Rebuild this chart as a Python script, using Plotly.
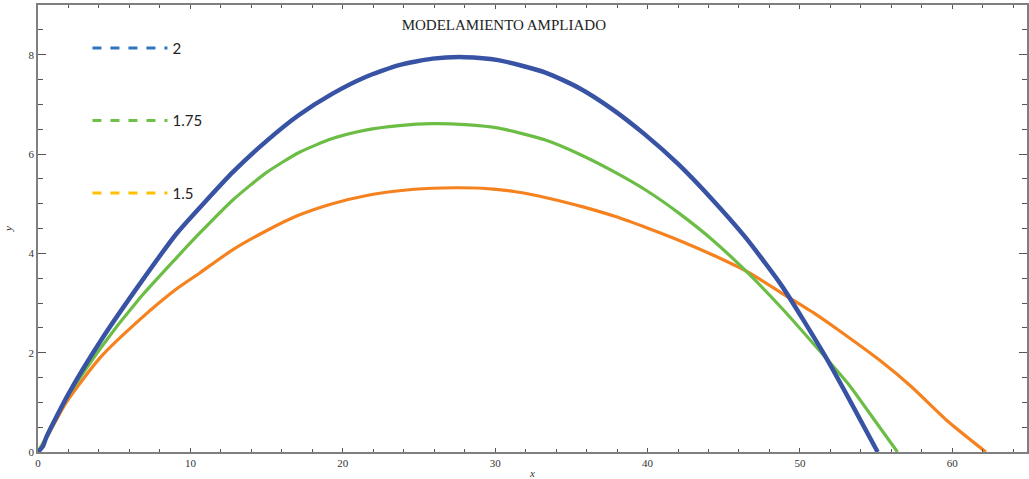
import plotly.graph_objects as go

# ---- data ----
x_20 = [0, 0.33, 0.55, 2.0, 4.2, 6.6, 9.1, 11.0, 12.8, 14.95, 17.1, 19.3, 21.5, 23.7, 25.9, 28.0,
        30.2, 33.3, 35.5, 37.7, 39.8, 42.0, 44.2, 46.4, 48.8, 51.6, 53.2, 55.1]
y_20 = [0, 0.12, 0.30, 1.17, 2.28, 3.35, 4.40, 5.05, 5.64, 6.25, 6.78, 7.21, 7.55, 7.79, 7.92, 7.95,
        7.89, 7.64, 7.33, 6.90, 6.40, 5.80, 5.10, 4.33, 3.35, 1.96, 1.08, 0]

x_175 = [0, 0.4, 1.86, 4.05, 6.66, 9.06, 10.59, 12.77, 14.96, 17.13, 19.32, 21.5, 23.7, 25.87, 28.05,
         30.24, 33.3, 35.5, 37.7, 39.9, 42.1, 44.3, 46.6, 48.8, 51.0, 53.2, 54.9, 56.4]
y_175 = [0, 0.22, 1.07, 2.07, 3.09, 3.90, 4.40, 5.07, 5.62, 6.03, 6.31, 6.48, 6.57, 6.61, 6.59,
         6.52, 6.28, 6.00, 5.66, 5.27, 4.80, 4.26, 3.60, 2.90, 2.14, 1.36, 0.64, 0]

x_15 = [0, 0.4, 1.86, 4.05, 6.66, 9.08, 10.59, 12.77, 14.96, 17.13, 19.32, 21.5, 23.7, 25.87, 27.4,
        29.15, 31.33, 33.5, 35.7, 37.9, 40.06, 42.24, 44.4, 46.6, 48.8, 51.0, 52.5, 55.3, 57.3, 59.7, 62.2]
y_15 = [0, 0.2, 1.0, 1.89, 2.66, 3.28, 3.60, 4.07, 4.45, 4.77, 5.00, 5.16, 5.26, 5.31, 5.32,
        5.31, 5.24, 5.11, 4.94, 4.74, 4.50, 4.24, 3.95, 3.62, 3.20, 2.78, 2.46, 1.83, 1.32, 0.62, 0]

legend_labels = ["2", "1.75", "1.5"]
legend_colors = ["#2f75c0", "#6fc145", "#ffc000"]
title_text = "MODELAMIENTO AMPLIADO"
x_ticks = [0, 10, 20, 30, 40, 50, 60]
y_ticks = [0, 2, 4, 6, 8]

fig = go.Figure()
fig.add_trace(go.Scatter(x=x_15, y=y_15, mode="lines", showlegend=False,
                         line=dict(color="#f5821f", width=3.2, shape="spline", smoothing=0.6)))
fig.add_trace(go.Scatter(x=x_175, y=y_175, mode="lines", showlegend=False,
                         line=dict(color="#6cbd45", width=3.2, shape="spline", smoothing=0.6)))
fig.add_trace(go.Scatter(x=x_20, y=y_20, mode="lines", showlegend=False,
                         line=dict(color="#3953a4", width=4.5, shape="spline", smoothing=0.6)))

for lab, col in zip(legend_labels, legend_colors):
    fig.add_trace(go.Scatter(x=[None], y=[None], mode="lines", name=lab, legendgroup=lab,
                             line=dict(color=col, width=3, dash="dash")))

serif = "Liberation Serif, DejaVu Serif, serif"
axis_common = dict(showline=True, linecolor="#7f7f7f", linewidth=1.5, mirror="allticks",
                   ticks="inside", showgrid=False, zeroline=False,
                   tickfont=dict(family=serif, size=11, color="#333333"),
                   tickcolor="#555555")

fig.update_layout(
    width=1029, height=479,
    margin=dict(l=38, r=0, t=5, b=25),
    paper_bgcolor="white", plot_bgcolor="white",
    title=dict(text=title_text, x=0.471, xanchor="center", y=1 - 25 / 479, yanchor="middle",
               xref="paper", yref="container",
               font=dict(family=serif, size=15, color="#222222")),
    legend=dict(x=0.05, y=0.94, xanchor="left", yanchor="top", bgcolor="rgba(0,0,0,0)",
                font=dict(family="Lato, Open Sans, sans-serif", size=15, color="#222222"),
                itemwidth=75, tracegroupgap=50, traceorder="grouped"),
    xaxis=dict(range=[0, 64.9], tickvals=x_ticks, ticklen=4, tickwidth=1,
               minor=dict(dtick=2, ticklen=3, tickcolor="#555555", ticks="inside"),
               title=dict(text="<i>x</i>", standoff=2,
                          font=dict(family=serif, size=11, color="#333333")),
               **axis_common),
    yaxis=dict(range=[0, 9.0], tickvals=y_ticks, ticklen=8, tickwidth=1,
               minor=dict(dtick=0.5, ticklen=5, tickcolor="#555555", ticks="inside"),
               title=dict(text="<i>y</i>", standoff=14,
                          font=dict(family=serif, size=11, color="#333333")),
               **axis_common),
)

fig.write_html("out.html")
